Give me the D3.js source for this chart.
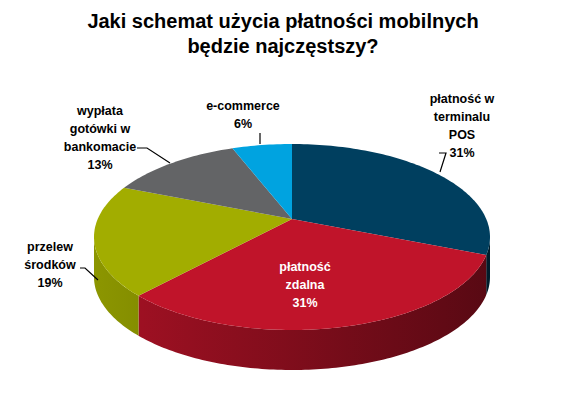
<!DOCTYPE html>
<html><head><meta charset="utf-8">
<script src="https://cdn.jsdelivr.net/npm/d3@7"></script>
<style>body{margin:0;background:#fff}</style></head>
<body><div id="chart"></div>
<script>
const titleLines = ["Jaki schemat użycia płatności mobilnych", "będzie najczęstszy?"];
const categories = ["płatność w terminalu POS", "płatność zdalna", "przelew środków", "wypłata gotówki w bankomacie", "e-commerce"];
const values = [31, 31, 19, 13, 6];
const colors = ["#003f5f", "#c0142a", "#a2ad00", "#636466", "#00a3e0"];
const labelLines = [["płatność w","terminalu","POS","31%"],["płatność","zdalna","31%"],["przelew","środków","19%"],["wypłata","gotówki w","bankomacie","13%"],["e-commerce","6%"]];

const w = 566, h = 401;
// ellipse of the top face, apex of the pie sits above its centre (perspective)
const cx = 292, ecy = 237, rx = 198, ry = 93, apexY = 219, depth = 40;
const svg = d3.select("#chart").append("svg").attr("width", w).attr("height", h);
const defs = svg.append("defs");

svg.append("text").attr("text-anchor", "middle")
  .attr("font-family", "Liberation Sans, Arial").attr("font-weight", "bold").attr("font-size", 20)
  .selectAll("tspan").data(titleLines).enter().append("tspan")
  .attr("x", 283).attr("y", (d, i) => 28 + i * 25).text(d => d);

const pie = d3.pie().sort(null).value(d => d)(values);
const px = t => cx + rx * Math.sin(t), py = (t, dy = 0) => ecy - ry * Math.cos(t) + dy;

// slice angle -> ellipse parameter, by casting a ray from the apex
function toParam(a) {
  const dx = Math.sin(a) * rx, dy = -Math.cos(a) * ry, oy = apexY - ecy;
  const A = (dx / rx) ** 2 + (dy / ry) ** 2, B = 2 * dy * oy / ry ** 2, C = (oy / ry) ** 2 - 1;
  const s = (-B + Math.sqrt(B * B - 4 * A * C)) / (2 * A);
  const x = dx * s, y = oy + dy * s;
  let t = Math.atan2(x / rx, -y / ry);
  if (t < 0) t += 2 * Math.PI;
  if (a > Math.PI * 1.9 && t < 1) t = 2 * Math.PI;
  return t;
}
function arcPts(t0, t1, dy) {
  const n = Math.max(2, Math.ceil((t1 - t0) / 0.02));
  return d3.range(n + 1).map(i => { const t = t0 + (t1 - t0) * i / n; return [px(t), py(t, dy)]; });
}

// side walls (front half only)
pie.forEach((s, i) => {
  const t0 = Math.max(toParam(s.startAngle), Math.PI / 2), t1 = Math.min(toParam(s.endAngle), 3 * Math.PI / 2);
  if (t1 <= t0) return;
  const c = d3.color(colors[i]);
  const g = defs.append("linearGradient").attr("id", "side" + i).attr("gradientUnits", "userSpaceOnUse")
    .attr("x1", cx - rx).attr("x2", cx + rx).attr("y1", 0).attr("y2", 0);
  g.append("stop").attr("offset", 0).attr("stop-color", c.darker(0.4));
  g.append("stop").attr("offset", 1).attr("stop-color", c.darker(2.2));
  const top = arcPts(t0, t1, 0), bot = arcPts(t0, t1, depth).reverse();
  svg.append("path").attr("d", d3.line()(top.concat(bot)) + "Z").attr("fill", "url(#side" + i + ")");
});

// top faces
pie.forEach((s, i) => {
  const pts = [[cx, apexY]].concat(arcPts(toParam(s.startAngle), toParam(s.endAngle), 0));
  svg.append("path").attr("d", d3.line()(pts) + "Z").attr("fill", colors[i]);
});

// labels
const labelPos = [[462, 103], [305, 271], [50, 251], [100, 115], [243, 110]];
labelLines.forEach((lines, i) => {
  svg.append("text").attr("text-anchor", "middle")
    .attr("font-family", "Liberation Sans, Arial").attr("font-weight", "bold").attr("font-size", 12.5)
    .attr("fill", i === 1 ? "#fff" : "#000")
    .selectAll("tspan").data(lines).enter().append("tspan")
    .attr("x", labelPos[i][0]).attr("y", (d, j) => labelPos[i][1] + j * 18).text(d => d);
});

// leader lines
const leaders = [[[137, 148], [147, 148], [170, 163]], [[80, 268], [85, 268], [98, 280]], [[439, 153], [446, 153], [440, 172]], [[260, 133], [260, 144]]];
leaders.forEach(l => svg.append("path").attr("d", d3.line()(l)).attr("fill", "none").attr("stroke", "#000").attr("stroke-width", 1.2));
</script></body></html>
